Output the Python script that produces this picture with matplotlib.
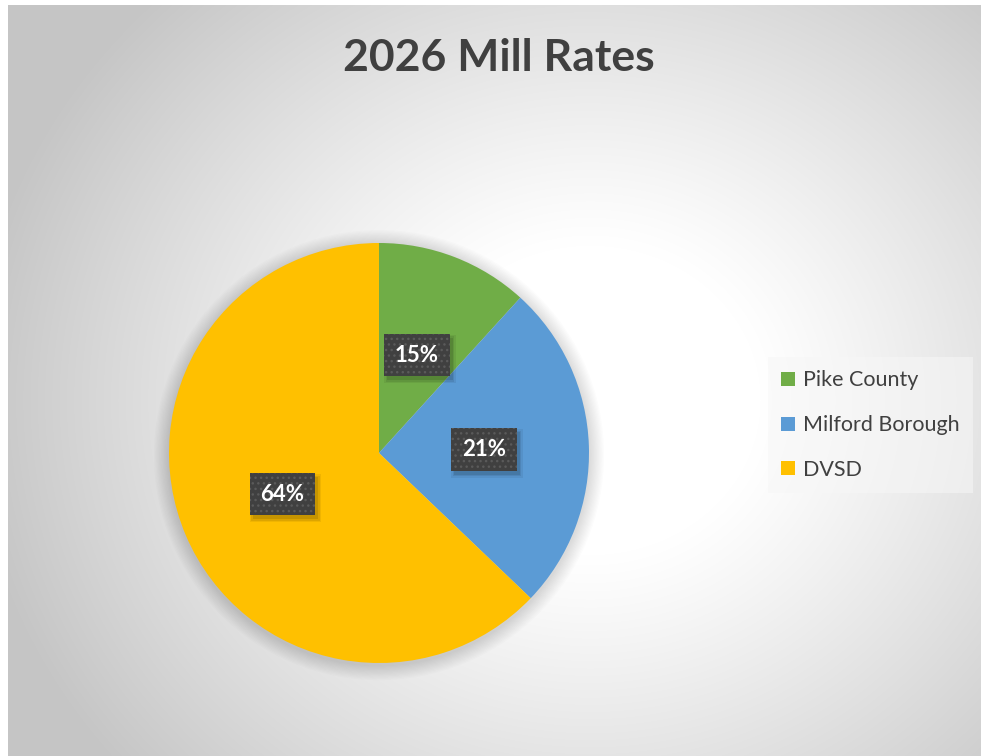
import numpy as np
import matplotlib
matplotlib.use("Agg")
import matplotlib.pyplot as plt
from matplotlib.patches import Patch, Circle, Rectangle

# ---- data ----
categories = ["Pike County", "Milford Borough", "DVSD"]
shares = [11.75, 25.4, 62.85]          # slice sizes as drawn
pct_labels = ["15%", "21%", "64%"]     # data labels as printed
colors = ["#70AD47", "#5B9BD5", "#FFC000"]
title = "2026 Mill Rates"

W, H = 981, 756
fig = plt.figure(figsize=(W / 100, H / 100), dpi=100, facecolor="white")

# ---- background radial gradient (chart area) ----
bx0, by0, bx1, by1 = 8, 5, 981, 756   # pixel box (top-left origin)
bg = fig.add_axes([bx0 / W, 1 - by1 / H, (bx1 - bx0) / W, (by1 - by0) / H], zorder=0)
yy, xx = np.mgrid[by0:by1, bx0:bx1]
cx, cy = 590, 400
d = np.hypot(xx - cx, (yy - cy) * 1.1)
v = 1 - 0.225 * np.clip((d - 170) / 450, 0, 1) ** 1.1
bg.imshow(np.dstack([v, v, v]), aspect="auto", interpolation="bilinear",
          extent=[0, 1, 0, 1])
bg.set_axis_off()

# ---- pie ----
pcx, pcy, r = 379, 453, 210
ax = fig.add_axes([(pcx - r) / W, 1 - (pcy + r) / H, 2 * r / W, 2 * r / H], zorder=1)
ax.set_facecolor("none")

# soft shadow around the pie
for k in range(12, 0, -1):
    ax.add_patch(Circle((0.0, -0.01), 1 + k * 0.006, facecolor="black",
                        alpha=0.012, edgecolor="none", zorder=0, clip_on=False))

wedges, texts = ax.pie(shares, colors=colors, startangle=90, counterclock=False,
                       labels=pct_labels, labeldistance=0.5,
                       wedgeprops=dict(linewidth=0, zorder=2),
                       textprops=dict(color="white", fontsize=16, fontweight="bold",
                                      family=["Lato", "DejaVu Sans"]))
for t in texts:
    t.set_ha("center")
    t.set_va("center")
    t.set_zorder(5)
    t.set_bbox(dict(boxstyle="square,pad=0.48", facecolor="#404040",
                    edgecolor="#5a5a5a", linewidth=0, hatch="..."))
ax.set_xlim(-1, 1)
ax.set_ylim(-1, 1)
ax.set_axis_off()

# ---- title ----
fig.text(499 / W, 1 - 58 / H, title, ha="center", va="center", fontsize=32,
         fontweight="bold", color="#404040", family=["Lato", "DejaVu Sans"], zorder=3)

# ---- legend ----
handles = [Patch(facecolor=c, edgecolor="none") for c in colors]
leg = fig.legend(handles, categories, loc="upper left",
                 bbox_to_anchor=(768 / W, 1 - 357 / H),
                 frameon=True, fancybox=False, framealpha=0.55,
                 facecolor="#f7f7f7", edgecolor="none",
                 prop=dict(family=["Lato", "DejaVu Sans"], size=15.5),
                 handlelength=0.62, handleheight=0.62, handletextpad=0.4,
                 labelspacing=1.15, borderpad=0.62, borderaxespad=0)
for txt in leg.get_texts():
    txt.set_color("#404040")
leg.set_zorder(3)

# ---- label box shadows (offset rectangles between wedges and labels) ----
fig.canvas.draw()
inv = fig.transFigure.inverted()
for t in texts:
    bb = t.get_bbox_patch().get_window_extent()
    (x0, y0), (x1, y1) = inv.transform([(bb.x0 + 3, bb.y0 - 4), (bb.x1 + 3, bb.y1 - 4)])
    for k, a in enumerate([0.10, 0.08, 0.06]):
        e = k * 1.5
        (ex, ey) = inv.transform((e, e)) - inv.transform((0, 0))
        sh = Rectangle((x0 - ex, y0 - ey), (x1 - x0) + 2 * ex, (y1 - y0) + 2 * ey,
                       transform=fig.transFigure, facecolor="black",
                       edgecolor="none", alpha=a, zorder=4, clip_on=False)
        ax.add_artist(sh)

fig.savefig("out.png", dpi=100, facecolor="white")
